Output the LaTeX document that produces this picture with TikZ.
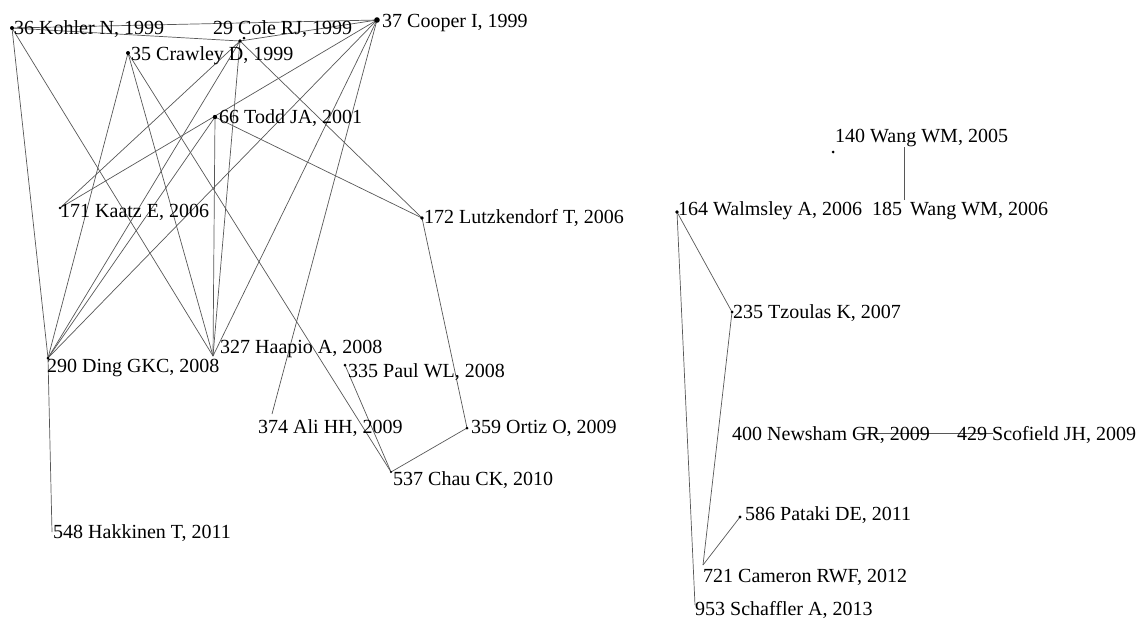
\documentclass[tikz,border=0pt]{standalone}
\usepackage{fontspec}
\setmainfont{Liberation Serif}
\begin{document}
\begin{tikzpicture}[x=1pt,y=-1pt,
  lbl/.style={anchor=base west,inner sep=0pt,font=\fontsize{20}{24}\selectfont},
  edge/.style={draw=black!66,line width=0.7pt},
  dot/.style={fill=black}]
\useasboundingbox (0,0) rectangle (1143,622);
% node positions (edge ends)
\coordinate (n36) at (12,28);
\coordinate (n29) at (240,41);
\coordinate (n37) at (377,20);
\coordinate (n35) at (128,53);
\coordinate (n66) at (215,117);
\coordinate (n171) at (60,208);
\coordinate (n172) at (422,218);
\coordinate (n290) at (48,358);
\coordinate (n327) at (213,356);
\coordinate (n335) at (345,365);
\coordinate (n374) at (272,414);
\coordinate (n359) at (467,428);
\coordinate (n537) at (391,472);
\coordinate (n548) at (52,532);
\coordinate (n140) at (904,147);
\coordinate (d140) at (833,152);
\coordinate (n185) at (904,200);
\coordinate (n164) at (677,212);
\coordinate (n235) at (732,312);
\coordinate (n400) at (857,433);
\coordinate (n429) at (993,433);
\coordinate (n586) at (740,517);
\coordinate (n721) at (703,565);
\coordinate (n953) at (695,605);
% edges
\foreach \a/\b in {n36/n37,n36/n29,n36/n290,n36/n327,
  n35/n290,n35/n327,n35/n537,
  n29/n37,n29/n171,n29/n290,n29/n327,n29/n172,
  n37/n171,n37/n290,n37/n327,n37/n374,
  n66/n327,n66/n290,n66/n172,
  n290/n548,n172/n359,n359/n537,n335/n537,
  n140/n185,n164/n953,n164/n235,n235/n721,n586/n721,n400/n429}
  \draw[edge] (\a) -- (\b);
% dots
\foreach \p/\r in {n36/2,n29/1.8,n37/2.8,n35/2,n66/2.2,n171/1.3,n172/1.8,n290/1.5,
  n335/1.5,n359/1.5,n537/1.2,d140/1.5,n164/1.8,n235/1.5,n586/1.6}
  \fill[dot] (\p) circle (\r pt);
\fill[dot] (244,38) circle (1.5pt);
% labels
\node[lbl] (l36) at (14,34) {36 Kohler N, 1999};
\node[lbl] (l29) at (213,34) {29 Cole RJ, 1999};
\node[lbl] (l37) at (382,27) {37 Cooper I, 1999};
\node[lbl] (l35) at (131,60) {35 Crawley D, 1999};
\node[lbl] (l66) at (219,123) {66 Todd JA, 2001};
\node[lbl] (l171) at (60,217) {171 Kaatz E, 2006};
\node[lbl] (l172) at (424,223) {172 Lutzkendorf T, 2006};
\node[lbl] (l290) at (47,372) {290 Ding GKC, 2008};
\node[lbl] (l327) at (220,353) {327 Haapio A, 2008};
\node[lbl] (l335) at (348,377) {335 Paul WL, 2008};
\node[lbl] (l374) at (258,433) {374 Ali HH, 2009};
\node[lbl] (l359) at (471,433) {359 Ortiz O, 2009};
\node[lbl] (l537) at (393,485) {537 Chau CK, 2010};
\node[lbl] (l548) at (53,538) {548 Hakkinen T, 2011};
\node[lbl] (l140) at (835,142) {140 Wang WM, 2005};
\node[lbl] (l164) at (678,215) {164 Walmsley A, 2006};
\node[lbl] (l185) at (872,215) {185\hspace{0.15em} Wang WM, 2006};
\node[lbl] (l235) at (733,318) {235 Tzoulas K, 2007};
\node[lbl] (l400) at (732,440) {400 Newsham GR, 2009};
\node[lbl] (l429) at (957,440) {429 Scofield JH, 2009};
\node[lbl] (l586) at (745,520) {586 Pataki DE, 2011};
\node[lbl] (l721) at (703,582) {721 Cameron RWF, 2012};
\node[lbl] (l953) at (695,615) {953 Schaffler A, 2013};
\end{tikzpicture}
\end{document}
